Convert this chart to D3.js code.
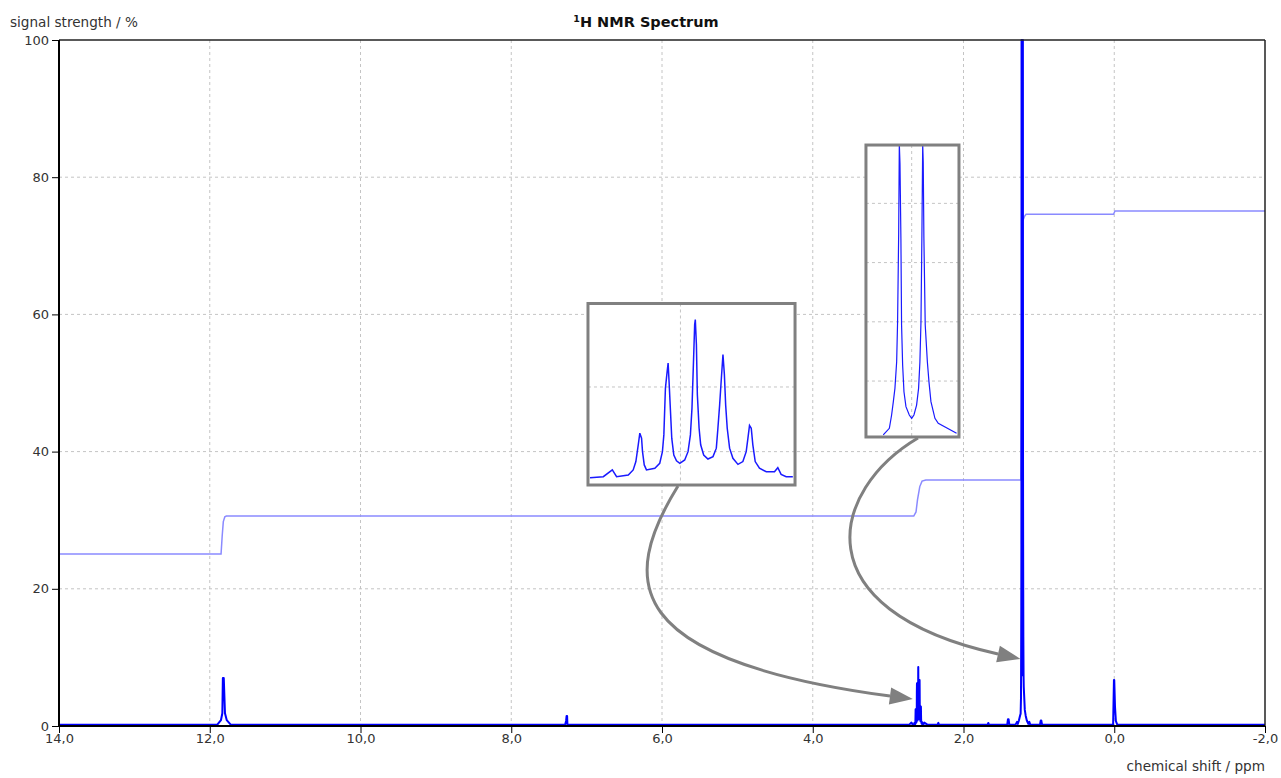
<!DOCTYPE html>
<html><head><meta charset="utf-8">
<script src="https://cdn.jsdelivr.net/npm/d3@7"></script>
<style>html,body{margin:0;padding:0;background:#fff;} svg{display:block;}</style>
</head><body>
<svg id="chart" width="1281" height="778"></svg>
<script>
// ---------------- DATA ----------------
const xTicks = [14, 12, 10, 8, 6, 4, 2, 0, -2];
const xTickLabels = ["14,0", "12,0", "10,0", "8,0", "6,0", "4,0", "2,0", "0,0", "-2,0"];
const yTicks = [0, 20, 40, 60, 80, 100];
const yTickLabels = ["0", "20", "40", "60", "80", "100"];

// spectrum pieces: [ppm, signal %]
const baseline = [[14, 0.2], [-2, 0.2]];
const peakCOOH = [[11.90,0.2],[11.851,0.87],[11.833,1.85],[11.826,7.0],[11.814,7.0],[11.798,1.85],[11.775,0.87],[11.722,0.2]];
const peakCHCl3 = [[7.285,0.2],[7.272,0.77],[7.266,1.46],[7.259,1.46],[7.255,0.2]];
const septetWings = [[2.72,0.2],[2.69,0.5],[2.52,0.5],[2.48,0.2]];
const septet = [
 [2.6667,0.02],[2.6583,0.07],[2.6526,0.44],[2.6499,0.07],[2.6425,0.16],[2.6394,0.44],[2.6377,0.89],
 [2.6362,1.80],[2.6352,2.43],[2.6341,2.16],[2.6335,1.43],[2.6324,0.71],[2.6310,0.44],[2.6257,0.53],
 [2.6226,0.80],[2.6209,1.43],[2.6200,2.34],[2.6190,4.88],[2.6179,5.79],[2.6173,6.24],[2.6167,5.24],
 [2.6158,3.61],[2.6150,2.16],[2.6137,1.25],[2.6120,0.93],[2.6099,0.80],[2.6068,0.98],[2.6047,1.43],
 [2.6032,2.34],[2.6022,3.79],[2.6011,6.70],[2.6005,8.33],[2.6001,8.60],[2.5994,7.24],[2.5988,4.52],
 [2.5977,2.70],[2.5967,1.80],[2.5948,1.25],[2.5921,1.03],[2.5889,1.16],[2.5868,1.62],[2.5858,2.70],
 [2.5847,3.97],[2.5836,5.43],[2.5826,6.70],[2.5817,5.61],[2.5809,3.97],[2.5799,2.70],[2.5784,1.62],
 [2.5763,1.07],[2.5731,0.74],[2.5700,0.89],[2.5679,1.43],[2.5668,2.16],[2.5658,2.85],[2.5647,2.70],
 [2.5637,1.80],[2.5622,0.89],[2.5595,0.53],[2.5552,0.34],[2.5500,0.34],[2.5479,0.56],[2.5458,0.20],
 [2.5426,0.07],[2.5384,0.07]];
const doubletWings = [[1.31,0.2],[1.29,0.6],[1.28,0.3],[1.265,0.8],[1.25,1.5],
 [1.175,1.5],[1.16,0.8],[1.14,0.3],[1.127,0.6],[1.115,0.2]];
const doublet = [
 [1.2420,1.8],[1.2374,4.04],[1.2357,8.54],[1.2344,13.04],[1.2332,17.54],[1.2319,26.5],[1.2312,40.0],
 [1.2304,69.3],[1.2299,100],[1.2294,93.5],[1.2287,68.2],[1.2282,38.9],[1.2274,25.4],[1.2264,16.4],
 [1.2249,11.35],[1.2224,8.54],[1.2206,7.41],[1.2189,8.54],[1.2169,11.9],[1.2154,17.54],[1.2144,26.5],
 [1.2136,40.0],[1.2129,69.3],[1.2123,100],[1.2119,94.0],[1.2114,68.2],[1.2104,38.9],[1.2088,26.5],
 [1.2076,19.8],[1.2061,13.04],[1.2031,7.41],[1.2006,5.73],[1.1868,2.35]];
const smallPeaks = [
 [2.345,0.2],[2.334,0.45],[2.325,0.2],
 [1.68,0.2],[1.671,0.45],[1.662,0.2],
 [1.42,0.2],[1.41,1.0],[1.402,1.0],[1.392,0.2],
 [0.985,0.2],[0.975,0.8],[0.968,0.8],[0.958,0.2]];
const peakTMS = [[0.015,0.2],[0.004,6.7],[0.0,6.7],[-0.01,2.8],[-0.022,0.7],[-0.04,0.2]];

const integral = [[14,25.07],[11.85,25.07],[11.835,27.7],[11.82,29.8],[11.80,30.5],[11.78,30.6],
 [2.66,30.6],[2.63,31.2],[2.61,33.0],[2.58,34.9],[2.55,35.7],[2.50,35.86],
 [1.24,35.86],[1.225,55],[1.215,73.6],[1.19,74.3],[1.17,74.6],
 [0.01,74.6],[-0.01,75.07],[-2,75.07]];

// inset zoom ranges (data units) and their grid lines
const inset1Range = {ppm: [2.668, 2.537], val: [-0.38, 9.47]};
const inset1GridX = [2.6095];
const inset1GridY = [1.43, 4.94];
const inset2Range = {ppm: [1.255, 1.185], val: [1.11, 99.7]};
const inset2GridX = [1.2206];
const inset2GridY = [20, 40, 60, 80];

// ---------------- LAYOUT ----------------
const L = 59, R = 1265, T = 40, B = 726;
const FONT = "'DejaVu Sans', sans-serif";
// inset boxes & arrows placed in main-chart data coordinates
const inset1Box = {ppm: [6.982, 4.235], val: [35.13, 61.59]};
const inset2Box = {ppm: [3.294, 2.060], val: [42.13, 84.69]};
const arrow1 = [[5.788,34.99],[6.557,21.28],[6.557,9.62],[2.975,4.37]];
const arrow2 = [[2.604,41.98],[3.771,34.40],[4.169,16.91],[1.542,10.50]];

const svg = d3.select("#chart");
const x = d3.scaleLinear().domain([14, -2]).range([L, R]);
const y = d3.scaleLinear().domain([0, 100]).range([B, T]);

const defs = svg.append("defs");
defs.append("clipPath").attr("id","plotclip").append("rect")
  .attr("x", L).attr("y", T-1).attr("width", R-L).attr("height", B-T+1);
defs.append("marker").attr("id","ahead").attr("markerUnits","userSpaceOnUse")
  .attr("markerWidth",30).attr("markerHeight",24).attr("refX",0).attr("refY",0)
  .attr("viewBox","-2 -12 30 24").attr("orient","auto")
  .append("path").attr("d","M0,-8.5L23,0L0,8.5Z").attr("fill","#808080");

// grid
const grid = svg.append("g");
const gridColor = "#c4c4c4";
grid.selectAll("line.v").data(xTicks.filter(d => d < 14 && d > -2)).enter().append("line")
  .attr("x1", d => x(d)).attr("x2", d => x(d)).attr("y1", T).attr("y2", B)
  .attr("stroke", gridColor).attr("stroke-dasharray","3,3");
grid.selectAll("line.h").data(yTicks.filter(d => d > 0 && d < 100)).enter().append("line")
  .attr("y1", d => y(d)).attr("y2", d => y(d)).attr("x1", L).attr("x2", R)
  .attr("stroke", gridColor).attr("stroke-dasharray","3,3");

// spectrum
const spectrum = [].concat(baseline, peakCOOH, peakCHCl3, septetWings, septet,
  doubletWings, doublet, smallPeaks, peakTMS).sort((a, b) => b[0] - a[0]);
const line = d3.line().x(d => x(d[0])).y(d => y(d[1]));
const plot = svg.append("g").attr("clip-path","url(#plotclip)");
plot.append("path").datum(integral).attr("d", line)
  .attr("fill","none").attr("stroke","#8a8aff").attr("stroke-width",1.5);
plot.append("path").datum(spectrum).attr("d", line)
  .attr("fill","none").attr("stroke","#0000ff").attr("stroke-width",2).attr("stroke-linejoin","round");

// insets
function drawInset(id, box, range, data, gx, gy, lw) {
  const x0 = x(box.ppm[0]), x1 = x(box.ppm[1]), y0 = y(box.val[1]), y1 = y(box.val[0]);
  const sx = d3.scaleLinear().domain(range.ppm).range([x0, x1]);
  const sy = d3.scaleLinear().domain(range.val).range([y1, y0]);
  defs.append("clipPath").attr("id", id).append("rect")
    .attr("x", x0).attr("y", y0).attr("width", x1-x0).attr("height", y1-y0);
  const g = svg.append("g");
  g.append("rect").attr("x", x0).attr("y", y0).attr("width", x1-x0).attr("height", y1-y0).attr("fill","#fff");
  const gc = g.append("g").attr("clip-path", `url(#${id})`);
  gc.selectAll("line.v").data(gx).enter().append("line")
    .attr("x1", d => sx(d)).attr("x2", d => sx(d)).attr("y1", y0).attr("y2", y1)
    .attr("stroke", gridColor).attr("stroke-dasharray","3,3");
  gc.selectAll("line.h").data(gy).enter().append("line")
    .attr("y1", d => sy(d)).attr("y2", d => sy(d)).attr("x1", x0).attr("x2", x1)
    .attr("stroke", gridColor).attr("stroke-dasharray","3,3");
  gc.append("path").datum(data).attr("d", d3.line().x(d => sx(d[0])).y(d => sy(d[1])))
    .attr("fill","none").attr("stroke","#1a1aff").attr("stroke-width", lw);
  g.append("rect").attr("x", x0).attr("y", y0).attr("width", x1-x0).attr("height", y1-y0)
    .attr("fill","none").attr("stroke","#808080").attr("stroke-width",3);
}
drawInset("in1", inset1Box, inset1Range, septet, inset1GridX, inset1GridY, 1.5);
drawInset("in2", inset2Box, inset2Range, doublet, inset2GridX, inset2GridY, 1.2);

// arrows
function arrowPath(p) {
  const P = p.map(d => [x(d[0]), y(d[1])]);
  return `M${P[0]}C${P[1]} ${P[2]} ${P[3]}`;
}
[arrow1, arrow2].forEach(a => {
  svg.append("path").attr("d", arrowPath(a)).attr("fill","none")
    .attr("stroke","#808080").attr("stroke-width",3).attr("marker-end","url(#ahead)");
});

// frame
svg.append("line").attr("x1", L).attr("x2", R).attr("y1", T).attr("y2", T).attr("stroke","#222").attr("stroke-width",1.5);
svg.append("line").attr("x1", R).attr("x2", R).attr("y1", T).attr("y2", B).attr("stroke","#222").attr("stroke-width",1.5);

// axes
const xAxis = svg.append("g").attr("transform", `translate(0,${B})`)
  .call(d3.axisBottom(x).tickValues(xTicks).tickFormat((d, i) => xTickLabels[i]).tickSize(7).tickSizeOuter(0));
xAxis.select(".domain").remove();
xAxis.selectAll("line").attr("stroke","#000");
xAxis.selectAll("text").attr("y", 17).attr("dy", 0).attr("fill","#333")
  .style("font-family", FONT).style("font-size","13px");
const yAxis = svg.append("g").attr("transform", `translate(${L},0)`)
  .call(d3.axisLeft(y).tickValues(yTicks).tickFormat((d, i) => yTickLabels[i]).tickSize(7).tickPadding(3).tickSizeOuter(0));
yAxis.select(".domain").remove();
yAxis.selectAll("line").attr("stroke","#000");
yAxis.selectAll("text").attr("fill","#333").style("font-family", FONT).style("font-size","13px");
svg.append("line").attr("x1", L).attr("x2", L).attr("y1", T).attr("y2", B+0.5).attr("stroke","#000").attr("stroke-width",2);
svg.append("line").attr("x1", L).attr("x2", R).attr("y1", B).attr("y2", B).attr("stroke","#000").attr("stroke-width",2);

// texts
svg.append("text").attr("x", 10).attr("y", 27).attr("fill","#333")
  .style("font-family", FONT).style("font-size","13.6px").text("signal strength / %");
svg.append("text").attr("x", R).attr("y", 771).attr("text-anchor","end").attr("fill","#333")
  .style("font-family", FONT).style("font-size","13.6px").text("chemical shift / ppm");
const title = svg.append("text").attr("x", 646).attr("y", 27).attr("text-anchor","middle").attr("fill","#111")
  .style("font-family", FONT).style("font-size","14.5px").style("font-weight","bold");
title.append("tspan").attr("font-size","9.5px").attr("dy", -5).text("1");
title.append("tspan").attr("dy", 5).text("H NMR Spectrum");
</script></body></html>
